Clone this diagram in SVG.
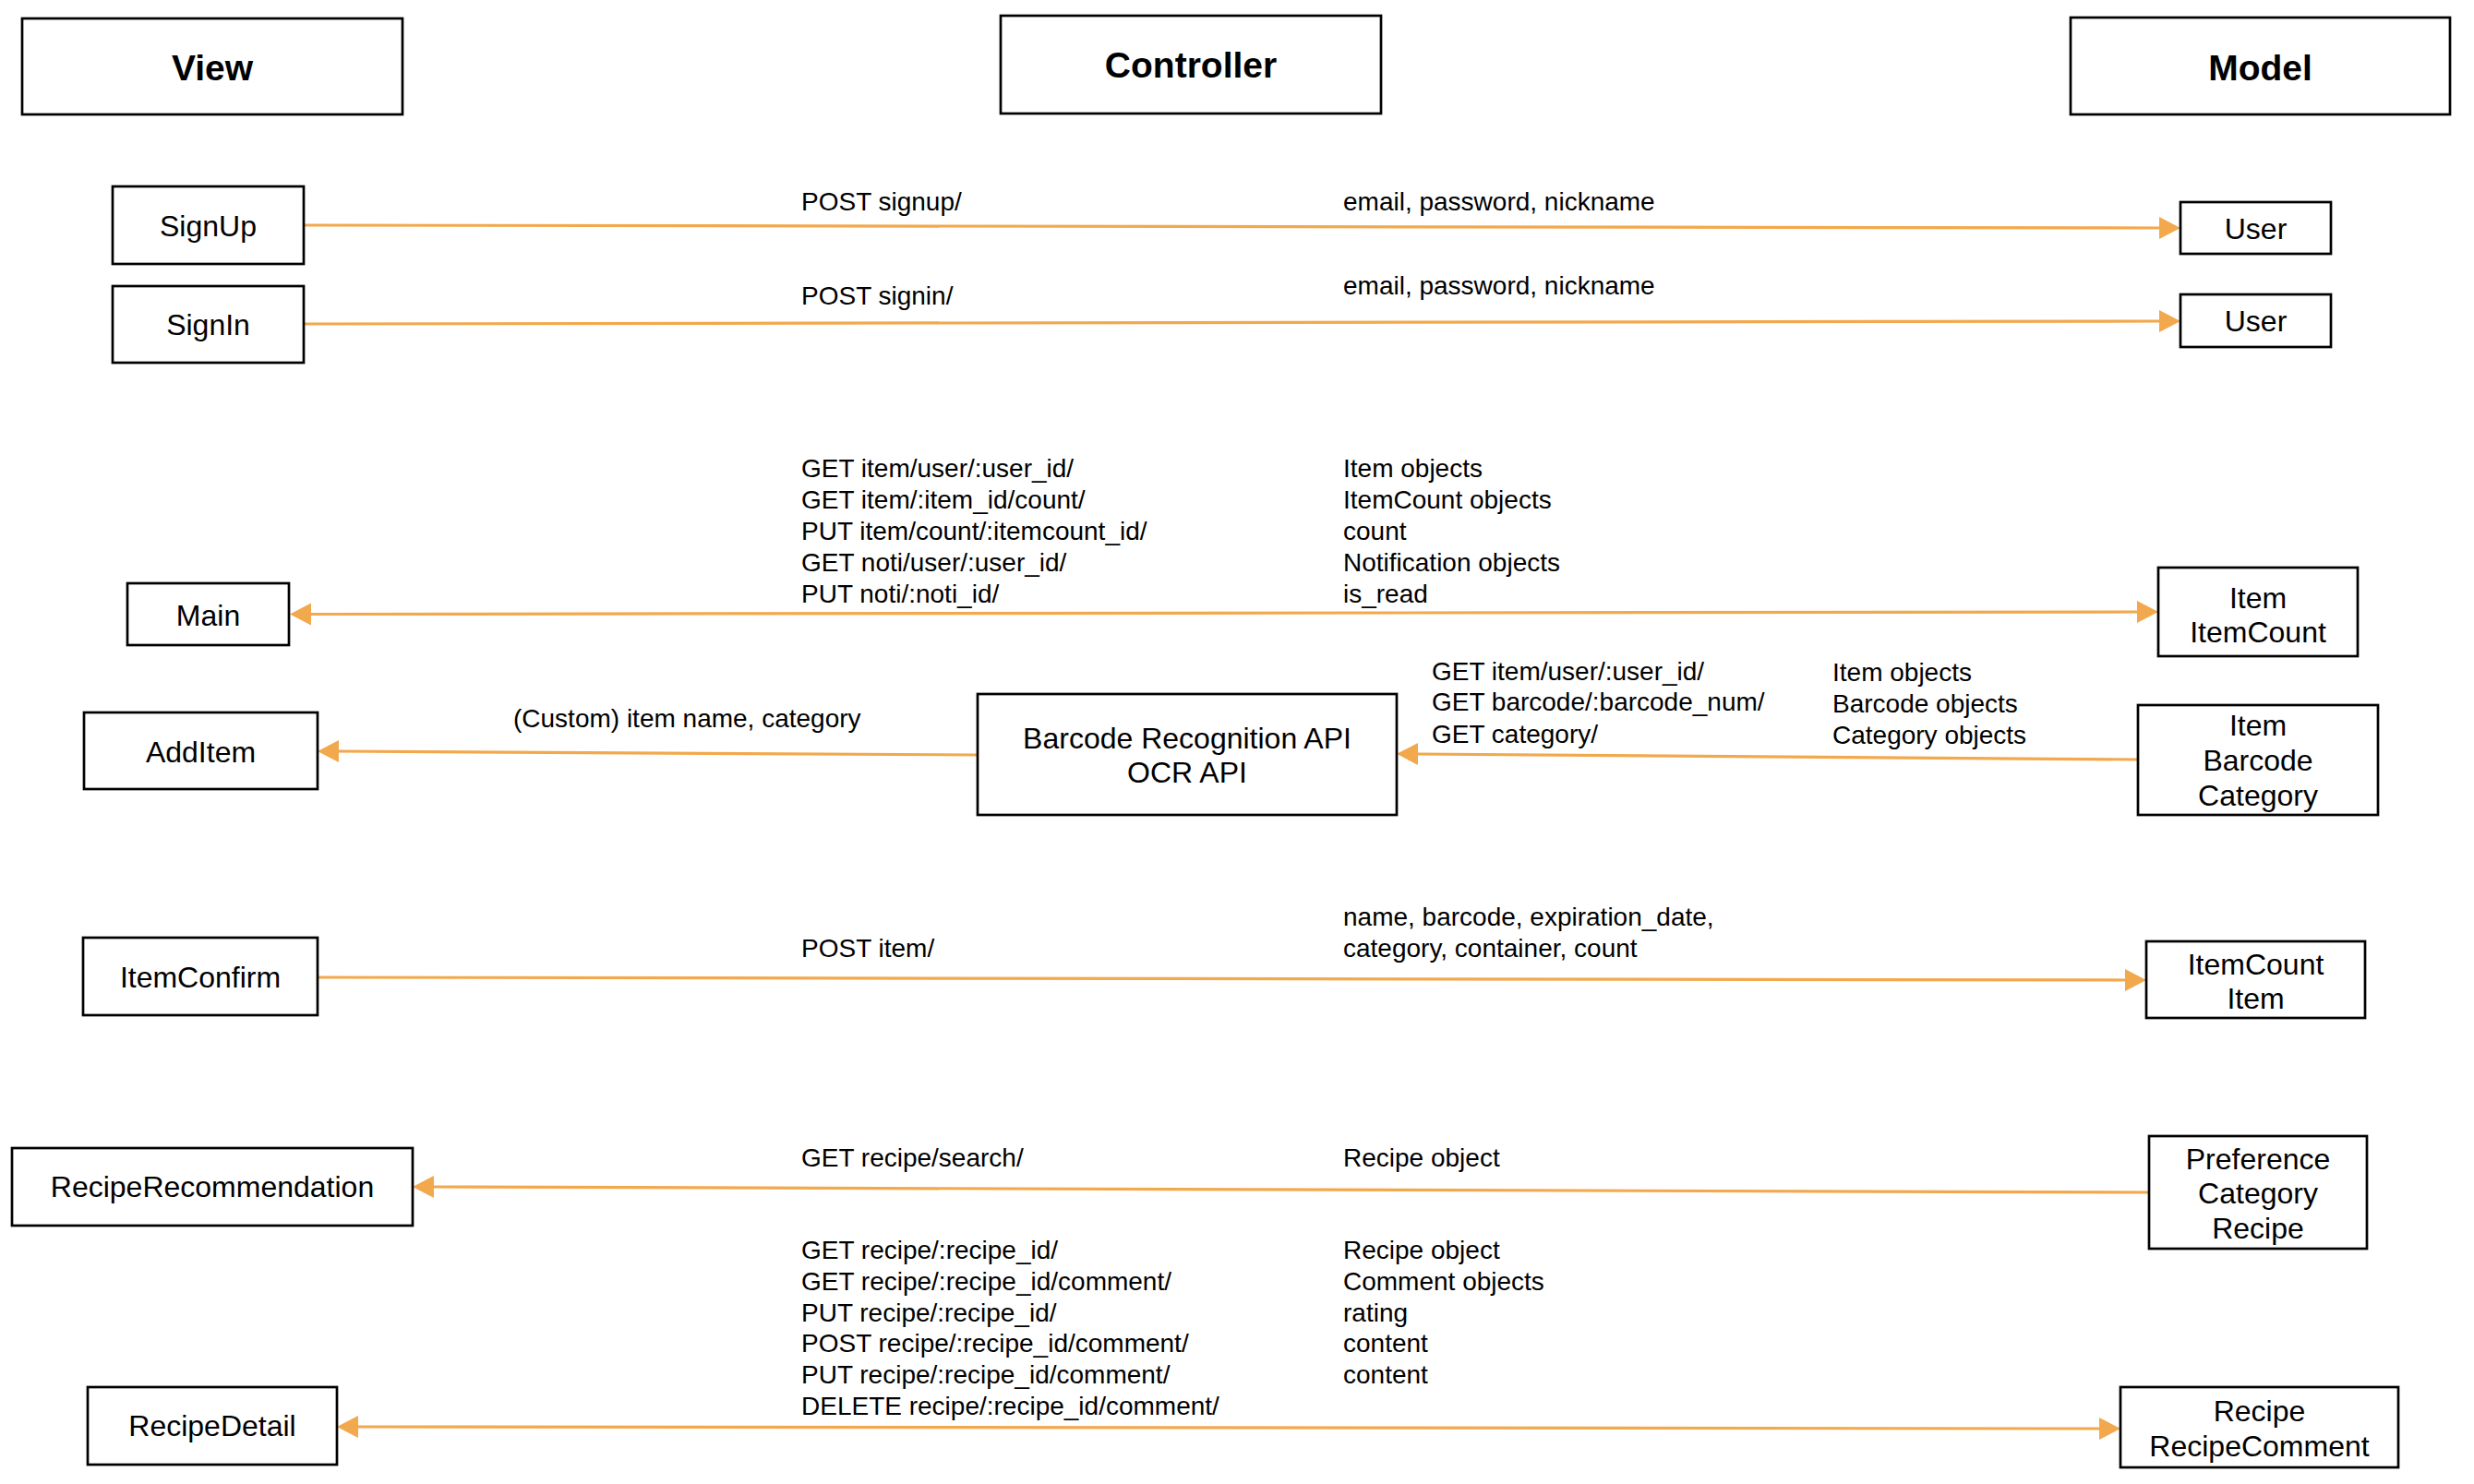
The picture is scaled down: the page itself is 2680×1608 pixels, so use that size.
<svg xmlns="http://www.w3.org/2000/svg" width="2680" height="1608" viewBox="0 0 2680 1608">
<style>
.box{fill:#fff;stroke:#000;stroke-width:2.7}
.hdr{font-family:"Liberation Sans",Arial,Helvetica,sans-serif;font-size:39px;font-weight:bold;fill:#000;text-anchor:middle}
.nt{font-family:"Liberation Sans",Arial,Helvetica,sans-serif;font-size:32px;fill:#000;text-anchor:middle}
.lb{font-family:"Liberation Sans",Arial,Helvetica,sans-serif;font-size:28px;fill:#000}
.cn{fill:none;stroke:#F2A84C;stroke-width:3.2}
</style>
<defs>
<marker id="ah" markerUnits="userSpaceOnUse" markerWidth="24" markerHeight="26" viewBox="0 0 24 26" refX="3" refY="13" orient="auto-start-reverse">
<path d="M0,1 L23,13 L0,25 Z" fill="#F2A84C"/>
</marker>
</defs>
<rect width="2680" height="1608" fill="#fff"/>

<g id="connectors">
<path class="cn" d="M329,244 L2342,247" marker-end="url(#ah)"/>
<path class="cn" d="M329,351 L2342,348" marker-end="url(#ah)"/>
<path class="cn" d="M334,665.5 L2318,663" marker-start="url(#ah)" marker-end="url(#ah)"/>
<path class="cn" d="M1059,818 L364,814" marker-end="url(#ah)"/>
<path class="cn" d="M2316,823 L1533,817" marker-end="url(#ah)"/>
<path class="cn" d="M344,1059 L2305,1062" marker-end="url(#ah)"/>
<path class="cn" d="M2328,1292 L467,1286" marker-end="url(#ah)"/>
<path class="cn" d="M385,1546 L2277,1548" marker-start="url(#ah)" marker-end="url(#ah)"/>
</g>

<g id="labels">
<text class="lb" x="868" y="227.5">POST signup/</text>
<text class="lb" x="1455" y="227.5">email, password, nickname</text>
<text class="lb" x="868" y="330">POST signin/</text>
<text class="lb" x="1455" y="319">email, password, nickname</text>
<text class="lb" x="868" y="517">GET item/user/:user_id/</text>
<text class="lb" x="868" y="551">GET item/:item_id/count/</text>
<text class="lb" x="868" y="585">PUT item/count/:itemcount_id/</text>
<text class="lb" x="868" y="619">GET noti/user/:user_id/</text>
<text class="lb" x="868" y="652.5">PUT noti/:noti_id/</text>
<text class="lb" x="1455" y="517">Item objects</text>
<text class="lb" x="1455" y="551">ItemCount objects</text>
<text class="lb" x="1455" y="585">count</text>
<text class="lb" x="1455" y="619">Notification objects</text>
<text class="lb" x="1455" y="652.5">is_read</text>
<text class="lb" x="556" y="788">(Custom) item name, category</text>
<text class="lb" x="1551" y="736.5">GET item/user/:user_id/</text>
<text class="lb" x="1551" y="770">GET barcode/:barcode_num/</text>
<text class="lb" x="1551" y="804.5">GET category/</text>
<text class="lb" x="1985" y="738">Item objects</text>
<text class="lb" x="1985" y="772">Barcode objects</text>
<text class="lb" x="1985" y="806">Category objects</text>
<text class="lb" x="868" y="1036.5">POST item/</text>
<text class="lb" x="1455" y="1003">name, barcode, expiration_date,</text>
<text class="lb" x="1455" y="1037">category, container, count</text>
<text class="lb" x="868" y="1264">GET recipe/search/</text>
<text class="lb" x="1455" y="1264">Recipe object</text>
<text class="lb" x="868" y="1364">GET recipe/:recipe_id/</text>
<text class="lb" x="868" y="1398">GET recipe/:recipe_id/comment/</text>
<text class="lb" x="868" y="1432">PUT recipe/:recipe_id/</text>
<text class="lb" x="868" y="1465">POST recipe/:recipe_id/comment/</text>
<text class="lb" x="868" y="1499">PUT recipe/:recipe_id/comment/</text>
<text class="lb" x="868" y="1533">DELETE recipe/:recipe_id/comment/</text>
<text class="lb" x="1455" y="1364">Recipe object</text>
<text class="lb" x="1455" y="1398">Comment objects</text>
<text class="lb" x="1455" y="1432">rating</text>
<text class="lb" x="1455" y="1465">content</text>
<text class="lb" x="1455" y="1499">content</text>
</g>

<g id="view"><rect class="box" x="24" y="20" width="412" height="104"/><text class="hdr" x="230" y="87">View</text></g>
<g id="controller"><rect class="box" x="1084" y="17" width="412" height="106"/><text class="hdr" x="1290" y="84">Controller</text></g>
<g id="model"><rect class="box" x="2243" y="19" width="411" height="105"/><text class="hdr" x="2448.5" y="87">Model</text></g>

<g id="signup"><rect class="box" x="122" y="202" width="207" height="84"/><text class="nt" x="225.5" y="256">SignUp</text></g>
<g id="signin"><rect class="box" x="122" y="310" width="207" height="83"/><text class="nt" x="225.5" y="363">SignIn</text></g>
<g id="user1"><rect class="box" x="2362" y="219" width="163" height="56"/><text class="nt" x="2443.5" y="258.5">User</text></g>
<g id="user2"><rect class="box" x="2362" y="319" width="163" height="57"/><text class="nt" x="2443.5" y="359">User</text></g>

<g id="main"><rect class="box" x="138" y="632" width="175" height="67"/><text class="nt" x="225.5" y="678">Main</text></g>
<g id="item-itemcount"><rect class="box" x="2338" y="615" width="216" height="96"/><text class="nt" x="2446" y="659">Item</text><text class="nt" x="2446" y="695.5">ItemCount</text></g>

<g id="additem"><rect class="box" x="91" y="772" width="253" height="83"/><text class="nt" x="217.5" y="825.5">AddItem</text></g>
<g id="barcode-api"><rect class="box" x="1059" y="752" width="454" height="131"/><text class="nt" x="1286" y="810.5">Barcode Recognition API</text><text class="nt" x="1286" y="847.5">OCR API</text></g>
<g id="item-barcode-category"><rect class="box" x="2316" y="764" width="260" height="119"/><text class="nt" x="2446" y="796.5">Item</text><text class="nt" x="2446" y="834.5">Barcode</text><text class="nt" x="2446" y="872.5">Category</text></g>

<g id="itemconfirm"><rect class="box" x="90" y="1016" width="254" height="84"/><text class="nt" x="217" y="1070">ItemConfirm</text></g>
<g id="itemcount-item"><rect class="box" x="2325" y="1020" width="237" height="83"/><text class="nt" x="2443.5" y="1055.5">ItemCount</text><text class="nt" x="2443.5" y="1093">Item</text></g>

<g id="reciperecommendation"><rect class="box" x="13" y="1244" width="434" height="84"/><text class="nt" x="230" y="1297">RecipeRecommendation</text></g>
<g id="preference-category-recipe"><rect class="box" x="2328" y="1231" width="236" height="122"/><text class="nt" x="2446" y="1266.5">Preference</text><text class="nt" x="2446" y="1304">Category</text><text class="nt" x="2446" y="1341.5">Recipe</text></g>

<g id="recipedetail"><rect class="box" x="95" y="1503" width="270" height="84"/><text class="nt" x="230" y="1556">RecipeDetail</text></g>
<g id="recipe-recipecomment"><rect class="box" x="2297" y="1503" width="301" height="87"/><text class="nt" x="2447.5" y="1540">Recipe</text><text class="nt" x="2447.5" y="1578">RecipeComment</text></g>
</svg>
